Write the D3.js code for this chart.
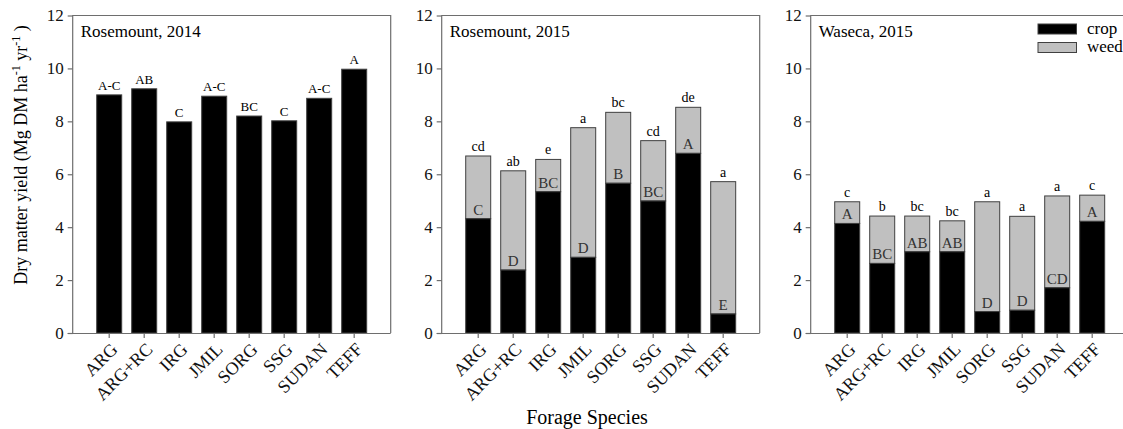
<!DOCTYPE html>
<html lang="en">
<head>
<meta charset="utf-8">
<title>Forage dry matter yield</title>
<script src="https://cdn.jsdelivr.net/npm/d3@7"></script>
<style>
	body { margin: 0; background: #fff; }
	svg text { font-family: "Liberation Serif", "Times New Roman", serif; }
	.frame { fill: none; stroke: #6e6e6e; stroke-width: 1.2; }
	.axis path, .axis line { stroke: #6e6e6e; stroke-width: 1.2; }
	.axis text { fill: #111; }
</style>
</head>
<body>
<svg id="chart" width="1123" height="429"></svg>
<script>
var species = ["ARG", "ARG+RC", "IRG", "JMIL", "SORG", "SSG", "SUDAN", "TEFF"];
var yTicks = [0, 2, 4, 6, 8, 10, 12];

// Rosemount 2014 - crop only
var ros14Total = [9.0, 9.23, 7.98, 8.95, 8.2, 8.02, 8.87, 9.97];
var ros14Letters = ["A-C", "AB", "C", "A-C", "BC", "C", "A-C", "A"];

// Rosemount 2015 - crop + weed
var ros15Crop = [4.32, 2.38, 5.34, 2.86, 5.66, 4.99, 6.79, 0.72];
var ros15Total = [6.69, 6.13, 6.56, 7.76, 8.34, 7.27, 8.53, 5.72];
var ros15CropLetters = ["C", "D", "BC", "D", "B", "BC", "A", "E"];
var ros15TotalLetters = ["cd", "ab", "e", "a", "bc", "cd", "de", "a"];

// Waseca 2015 - crop + weed
var was15Crop = [4.14, 2.63, 3.07, 3.07, 0.81, 0.86, 1.71, 4.22];
var was15Total = [4.96, 4.42, 4.42, 4.24, 4.96, 4.41, 5.18, 5.21];
var was15CropLetters = ["A", "BC", "AB", "AB", "D", "D", "CD", "A"];
var was15TotalLetters = ["c", "b", "bc", "bc", "a", "a", "a", "c"];

var serif = "'Liberation Serif', 'Times New Roman', serif";
var svg = d3.select("#chart");
var yTop = 15.5, yBottom = 333, panelW = 318;

var y = d3.scaleLinear().domain([0, 12]).range([yBottom, yTop]);

var panels = [
	{ x0: 72.7, title: "Rosemount, 2014", crop: ros14Total, total: null,
		cropLetters: null, totalLetters: ros14Letters, topSize: 13 },
	{ x0: 441.7, title: "Rosemount, 2015", crop: ros15Crop, total: ros15Total,
		cropLetters: ros15CropLetters, totalLetters: ros15TotalLetters, topSize: 14 },
	{ x0: 810.7, title: "Waseca, 2015", crop: was15Crop, total: was15Total,
		cropLetters: was15CropLetters, totalLetters: was15TotalLetters, topSize: 14 }
];

panels.forEach(function(p) {
	var x = d3.scaleBand()
		.domain(species)
		.range([p.x0, p.x0 + panelW])
		.paddingInner(10 / 35)
		.paddingOuter(0.686);

	var g = svg.append("g");
	var idx = d3.range(species.length);

	// weed (stacked on top of crop)
	if (p.total) {
		g.selectAll(".weed").data(idx).enter().append("rect")
			.attr("x", function(i) { return x(species[i]); })
			.attr("width", x.bandwidth())
			.attr("y", function(i) { return y(p.total[i]); })
			.attr("height", function(i) { return y(p.crop[i]) - y(p.total[i]); })
			.attr("fill", "#c0c0c0").attr("stroke", "#404040").attr("stroke-width", 1);
	}
	// crop
	g.selectAll(".crop").data(idx).enter().append("rect")
		.attr("x", function(i) { return x(species[i]); })
		.attr("width", x.bandwidth())
		.attr("y", function(i) { return y(p.crop[i]); })
		.attr("height", function(i) { return y(0) - y(p.crop[i]); })
		.attr("fill", "#000").attr("stroke", "#404040").attr("stroke-width", 1);

	// frame
	g.append("path").attr("class", "frame")
		.attr("d", "M" + p.x0 + "," + yBottom + "V" + yTop + "H" + (p.x0 + panelW) + "V" + yBottom);

	// y axis
	g.append("g").attr("class", "axis")
		.attr("transform", "translate(" + p.x0 + ",0)")
		.attr("font-family", serif)
		.call(d3.axisLeft(y).tickValues(yTicks).tickSize(5).tickPadding(4).tickSizeOuter(0))
		.call(function(a) { a.select(".domain").remove(); })
		.selectAll("text").style("font-size", "17px").style("font-family", serif);

	// x axis
	var xa = g.append("g").attr("class", "axis")
		.attr("transform", "translate(0," + yBottom + ")")
		.call(d3.axisBottom(x).tickSize(5).tickSizeOuter(0));
	xa.select(".domain").attr("d", "M" + (p.x0 - 5) + ",0.5H" + (p.x0 + panelW));
	xa.selectAll(".tick text")
		.style("font-size", "18px")
		.style("font-family", serif)
		.attr("text-anchor", "end")
		.attr("x", 0).attr("y", 0)
		.attr("dy", "0.35em")
		.attr("transform", "translate(5,13) rotate(-45)");

	var totals = p.total || p.crop;
	g.selectAll(".tl").data(idx).enter().append("text")
		.attr("x", function(i) { return x(species[i]) + x.bandwidth() / 2; })
		.attr("y", function(i) { return y(totals[i]) - 5; })
		.attr("text-anchor", "middle")
		.style("font-size", p.topSize + "px")
		.text(function(i) { return p.totalLetters[i]; });

	if (p.cropLetters) {
		g.selectAll(".cl").data(idx).enter().append("text")
			.attr("x", function(i) { return x(species[i]) + x.bandwidth() / 2; })
			.attr("y", function(i) { return y(p.crop[i]) - 4; })
			.attr("text-anchor", "middle")
			.attr("fill", "#333")
			.style("font-size", "15px")
			.text(function(i) { return p.cropLetters[i]; });
	}

	g.append("text")
		.attr("x", p.x0 + 8).attr("y", 37)
		.style("font-size", "17px")
		.text(p.title);
});

// legend
var legend = [{ name: "crop", fill: "#000" }, { name: "weed", fill: "#c0c0c0" }];
var lg = svg.append("g").attr("transform", "translate(1038,24)");
lg.selectAll("rect").data(legend).enter().append("rect")
	.attr("x", 0).attr("y", function(d, i) { return i * 18.5; })
	.attr("width", 38.5).attr("height", 10)
	.attr("fill", function(d) { return d.fill; })
	.attr("stroke", "#404040").attr("stroke-width", 1);
lg.selectAll("text").data(legend).enter().append("text")
	.attr("x", 49).attr("y", function(d, i) { return 10 + i * 18; })
	.style("font-size", "17px")
	.text(function(d) { return d.name; });

// axis titles
var yl = svg.append("text")
	.attr("transform", "translate(27,155) rotate(-90)")
	.attr("text-anchor", "middle")
	.style("font-size", "18px");
yl.append("tspan").text("Dry matter yield (Mg DM ha");
yl.append("tspan").attr("dy", -7).style("font-size", "12px").text("-1");
yl.append("tspan").attr("dy", 7).text(" yr");
yl.append("tspan").attr("dy", -7).style("font-size", "12px").text("-1");
yl.append("tspan").attr("dy", 7).text(" )");

svg.append("text")
	.attr("x", 587).attr("y", 424)
	.attr("text-anchor", "middle")
	.style("font-size", "20px")
	.text("Forage Species");
</script>
</body>
</html>
